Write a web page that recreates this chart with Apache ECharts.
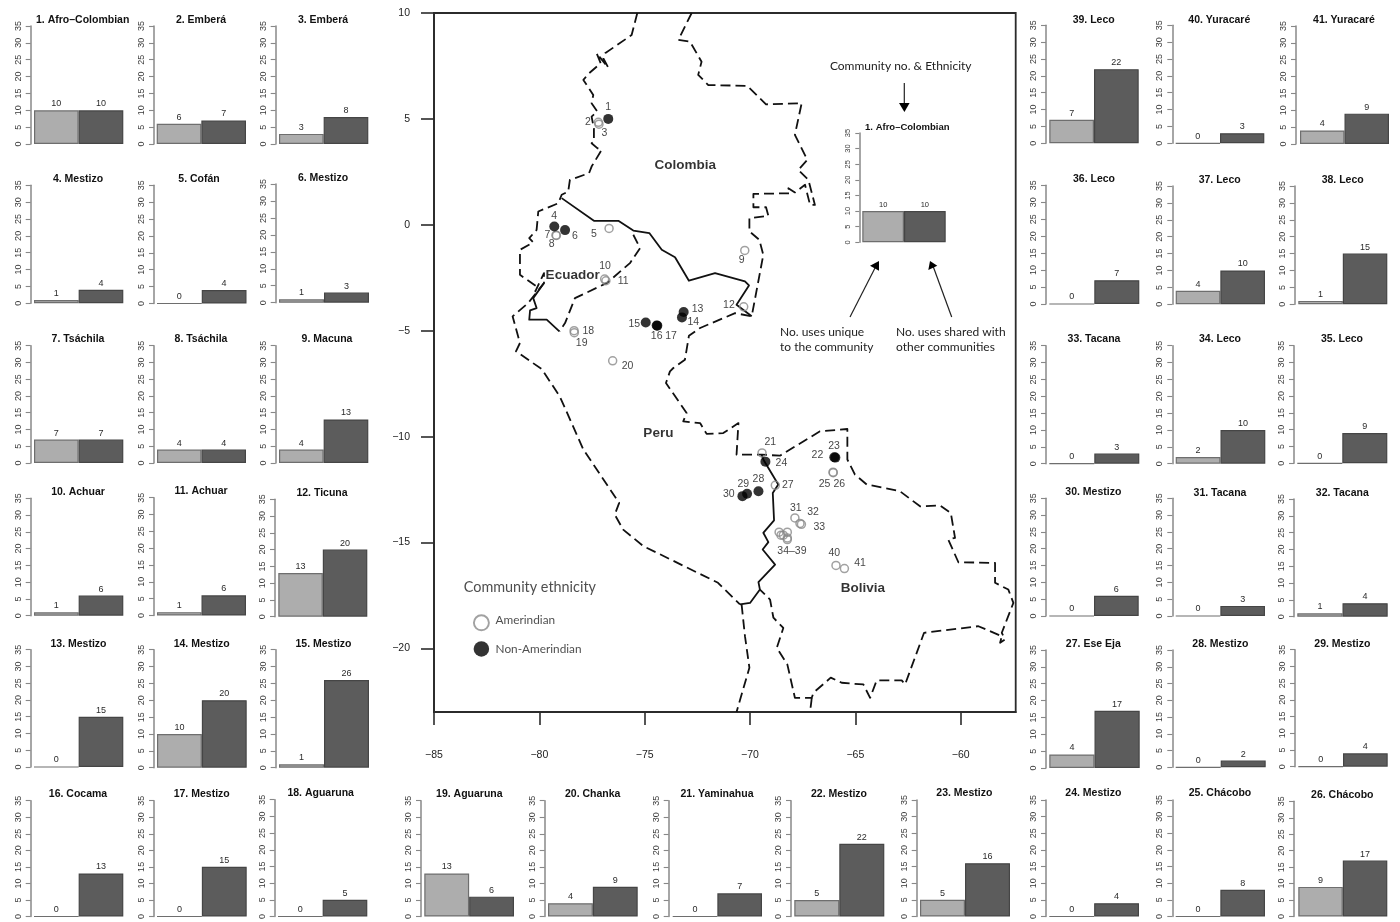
<!DOCTYPE html>
<html><head><meta charset="utf-8">
<style>html,body{margin:0;padding:0;background:#fff}#c{width:1400px;height:922px;filter:blur(0.4px)}</style>
<script src="https://cdn.jsdelivr.net/npm/echarts@6/dist/echarts.min.js"></script>
</head><body><div id="c"></div>
<script>
// ---------- data ----------
const ethnicities = ['Afro–Colombian','Emberá','Emberá','Mestizo','Cofán','Mestizo','Tsáchila','Tsáchila','Macuna','Achuar','Achuar','Ticuna','Mestizo','Mestizo','Mestizo','Cocama','Mestizo','Aguaruna','Aguaruna','Chanka','Yaminahua','Mestizo','Mestizo','Mestizo','Chácobo','Chácobo','Ese Eja','Mestizo','Mestizo','Mestizo','Tacana','Tacana','Tacana','Leco','Leco','Leco','Leco','Leco','Leco','Yuracaré','Yuracaré'];
const uniqueUses = [10,6,3,1,0,1,7,4,4,1,1,13,0,10,1,0,0,0,13,4,0,5,5,0,0,9,4,0,0,0,0,1,0,2,0,0,4,1,7,0,4];
const sharedUses = [10,7,8,4,4,3,7,4,13,6,6,20,15,20,26,13,15,5,6,9,7,22,16,4,8,17,17,2,4,6,3,4,3,10,9,7,10,15,22,3,9];
const yTicks = [0,5,10,15,20,25,30,35];
const lonTicks = [-85,-80,-75,-70,-65,-60];
const latTicks = [-20,-15,-10,-5,0,5,10];

const amerindianSites = [[-77.20,4.84],[-77.17,4.75],[-76.69,-0.17],[-79.21,-0.49],[-79.19,-0.50],[-70.25,-1.21],[-76.90,-2.56],[-76.84,-2.64],[-70.30,-3.87],[-78.35,-5.00],[-78.34,-5.09],[-76.52,-6.42],[-69.43,-10.77],[-66.06,-11.68],[-66.05,-11.70],[-68.80,-12.30],[-67.87,-13.84],[-67.63,-14.10],[-67.56,-14.14],[-68.62,-14.51],[-68.23,-14.51],[-68.53,-14.65],[-68.42,-14.65],[-68.23,-14.78],[-68.23,-14.86],[-65.92,-16.08],[-65.52,-16.23]];
const nonAmerindianSites = [[-76.73,5.00],[-79.29,-0.08],[-78.78,-0.25],[-73.15,-4.12],[-73.23,-4.37],[-74.95,-4.61],[-74.43,-4.75],[-74.40,-4.76],[-66.00,-10.97],[-65.95,-10.99],[-69.27,-11.18],[-69.60,-12.58],[-70.14,-12.70],[-70.36,-12.81]];
const siteLabels = [['1',-76.73,5.58],['2',-77.69,4.83],['3',-76.91,4.32],['4',-79.30,0.42],['5',-77.41,-0.42],['6',-78.31,-0.52],['7',-79.62,-0.49],['8',-79.41,-0.91],['9',-70.40,-1.68],['10',-76.88,-1.93],['11',-76.02,-2.64],['12',-71.00,-3.77],['13',-72.49,-3.98],['14',-72.69,-4.58],['15',-75.49,-4.67],['16',-74.43,-5.27],['17',-73.75,-5.27],['18',-77.68,-5.01],['19',-77.99,-5.60],['20',-75.81,-6.66],['21',-69.04,-10.28],['22',-66.80,-10.86],['23',-66.01,-10.47],['24',-68.51,-11.26],['25',-66.46,-12.22],['26',-65.76,-12.22],['27',-68.21,-12.31],['28',-69.60,-12.01],['29',-70.32,-12.22],['30',-71.01,-12.69],['31',-67.83,-13.38],['32',-67.01,-13.57],['33',-66.71,-14.26],['34–39',-68.01,-15.41],['40',-66.00,-15.52],['41',-64.78,-15.99]];
const countryLabels = [['Colombia',-73.07,2.80],['Ecuador',-78.42,-2.37],['Peru',-74.35,-9.86],['Bolivia',-64.64,-17.17]];

const coastBorder = [[-75.35,10],[-75.62,8.96],[-76.88,8.10],[-76.96,7.86],[-76.73,7.42],[-77.28,8.10],[-77.09,7.63],[-77.68,7.12],[-77.91,6.84],[-77.44,6.13],[-77.52,5.74],[-77.25,5.35],[-77.52,5.11],[-77.41,4.56],[-77.41,3.93],[-77.52,3.85],[-77.25,3.62],[-77.04,3.54],[-77.52,2.75],[-77.64,2.44],[-78.31,2.20],[-78.55,2.12],[-78.63,1.57],[-78.94,1.42],[-79.10,1.02],[-80.05,0.63],[-80.13,-0.24],[-80.48,-0.63],[-80.29,-0.83],[-80.92,-1.18],[-80.92,-2.36],[-80.13,-2.91],[-80.19,-3.14],[-79.78,-2.28],[-79.78,-2.75],[-80.53,-3.69],[-81.27,-4.32],[-80.92,-5.58],[-81.11,-5.97],[-79.89,-6.81],[-79.03,-8.10],[-77.91,-10.61],[-76.21,-13.13],[-76.42,-13.68],[-76.02,-14.39],[-75.06,-15.17],[-71.52,-16.90],[-70.48,-17.92]];
const chileBorder = [[-70.40,-17.92],[-70.24,-19.42],[-70.03,-20.91],[-70.64,-23]];
const easternBorder = [[-72.77,10],[-73.40,8.73],[-72.85,8.65],[-72.30,7.70],[-72.46,7.08],[-71.98,6.60],[-70.13,6.56],[-69.24,5.69],[-67.55,5.74],[-67.87,4.25],[-67.28,3.07],[-67.71,2.59],[-67.23,2.12],[-66.92,0.94],[-67.15,0.94],[-67.39,1.89],[-67.87,1.53],[-68.18,1.73],[-68.10,1.49],[-69.84,1.46],[-69.84,0.83],[-69.24,0.83],[-69.13,0.42],[-70.03,0.31],[-70.03,-0.31],[-69.56,-0.71],[-69.37,-1.42],[-69.92,-4.32],[-70.71,-4.17],[-72.37,-4.87],[-72.90,-5.24],[-73.09,-6.37],[-73.64,-6.76],[-73.80,-6.92],[-73.99,-7.47],[-73.01,-8.88],[-73.17,-9.28],[-72.37,-9.36],[-72.06,-9.87],[-71.27,-9.83],[-70.55,-9.36],[-70.64,-10.85],[-69.45,-10.85],[-68.58,-10.90],[-66.68,-9.75],[-65.38,-9.64],[-65.38,-11.08],[-65.02,-11.79],[-64.46,-12.26],[-62.88,-12.58],[-61.93,-13.29],[-60.98,-13.25],[-60.47,-13.60],[-60.27,-14.78],[-60.59,-14.86],[-60.11,-15.93],[-58.37,-15.96],[-58.37,-16.90],[-57.74,-17.22],[-57.50,-17.85],[-58.05,-19.26],[-57.90,-19.58],[-58.13,-19.73],[-58.05,-19.42],[-59.16,-18.95],[-61.74,-19.26],[-62.64,-21.70],[-62.80,-21.51],[-63.99,-21.51],[-64.30,-22.33],[-64.62,-21.70],[-65.65,-21.62],[-66.17,-21.38],[-66.99,-22.09],[-67.07,-22.33],[-67.87,-22.33],[-68.23,-20.75],[-68.73,-19.97],[-68.42,-19.03],[-68.89,-18.55],[-69.05,-17.69],[-69.53,-17.22]];
const chileSpur = [[-67.07,-22.33],[-67.15,-23]];
const ecuadorPeruDashed = [[-75.54,-0.47],[-75.22,-1.10],[-75.70,-1.81],[-76.80,-2.75],[-78.31,-3.46],[-78.78,-4.64],[-79.05,-5.03]];
const peruBoliviaSolid = [[-70.48,-17.92],[-70.00,-17.85],[-69.53,-17.22],[-69.60,-16.87],[-68.81,-16.04],[-69.40,-15.33],[-69.13,-14.98],[-69.37,-14.54],[-68.86,-13.95],[-68.92,-12.66],[-68.66,-12.26],[-69.37,-11.08],[-69.45,-10.85]];
const colombiaPeruSolid = [[-78.94,1.26],[-77.41,0.19],[-76.25,0.19],[-75.54,-0.27],[-74.78,-0.39],[-74.19,-1.18],[-73.56,-1.53],[-72.90,-2.64],[-71.66,-2.28],[-70.24,-2.67],[-70.05,-2.86],[-70.64,-3.77],[-69.92,-4.32]];
const ecuadorPeruSolid = [[-79.05,-5.03],[-79.65,-4.48],[-80.48,-4.48],[-80.44,-4.04],[-80.13,-3.93],[-80.29,-3.46],[-79.78,-2.75]];

// ---------- layout (axis x, y at 35, y at 0, bar left, bar right, title centre x, title y) ----------
const panelLayout = [
[30.7,26,144,34,123.3,82.7,20],[154,26,144,156.7,246,201,20],[275.7,26,144,279,368.3,323,20],
[30.7,185.3,303.3,34,123.3,78,179],[154,185.3,303.5,157,246.5,199,179],[275.7,184,302.7,279,369,323,178],
[30.7,345.7,463,34,123.3,78,339],[154,345.7,463,157,246,201,339],[275.7,345.7,463,279,368.3,327,339],
[30.7,498.3,615.7,34,123.3,78,492],[154,497.7,615.5,157,246,201,491],[275,499.3,616.7,278.3,367.3,322,492.7],
[30.7,649.7,767,34,123.3,78.5,643.7],[154,649.7,767.7,157,246.7,201.7,643.7],[275.7,649.7,767.7,279,369,323.5,643.7],
[30.7,800.7,918.3,34,123.3,78,794],[154,800.7,918.7,157,246.7,201.7,794],[274.7,799.7,917,278,367.3,320.7,793.3],
[421,800.7,918.7,424.3,514,469.3,794],[544.7,800.7,918.7,548,637.7,592.7,794],[668.7,800.7,918.7,672.7,762,717,794],
[791,800.7,918.7,794.3,884.3,839,794],[916.7,800,918.3,920,1010,964.3,793.3],
[1046,800,917,1049.3,1139,1093.3,793.3],[1172.3,800,917,1175.7,1265,1220,793.3],[1294,801.3,918.7,1298.3,1387.3,1342.3,795],
[1046,650,768,1049.3,1139.7,1093.3,643.7],[1172.3,650,767.3,1175.7,1265.7,1220.3,643.7],[1295,649.7,766.7,1298.3,1387.7,1342.3,643.7],
[1046,498.3,616,1049.3,1138.7,1093.3,492],[1172.3,498.3,616,1175.7,1265,1220,492.7],[1294,499,616.7,1297.3,1387.7,1342.3,492.7],
[1046,345.7,463.7,1049.3,1139.3,1094,339.3],[1172.3,345.7,463.7,1175.7,1265.3,1220,339.3],[1294,345.7,463.3,1297.3,1387.3,1342,339.3],
[1046,185.3,304,1049.3,1139.3,1094,179.3],[1172.3,186,304.3,1175.7,1265,1219.7,180],[1294.7,186,304.3,1298.3,1387.3,1342.7,180],
[1046,25.3,143.3,1049.3,1138.7,1093.7,20],[1172.3,25.3,143.3,1175.7,1264.3,1219.3,20],[1296,26,144,1300,1389,1344,20]
];
const insetLayout = [859.3,133,242.3,862.3,945.7,907.3,127];

const LIGHT='#adadad', DARK='#5c5c5c', AXIS='#888888', SANS='"Liberation Sans",Arial,sans-serif', CAL='Lato,"Open Sans",sans-serif';
const grid=[],xAxis=[],yAxis=[],series=[],title=[];

function addPanel(layout,name,u,s,small){
  const [ax,y35,y0,bl,br,cx,ty]=layout, i=grid.length;
  grid.push({left:bl,top:y35,width:br-bl,height:y0-y35,containLabel:false});
  xAxis.push({type:'category',gridIndex:i,data:['unique','shared'],show:false,boundaryGap:true});
  yAxis.push({type:'value',gridIndex:i,min:0,max:35,interval:5,offset:bl-ax,
    axisLine:{show:true,lineStyle:{color:AXIS,width:1.5}},
    axisTick:{show:true,length:small?4:5,lineStyle:{color:AXIS,width:1.1}},
    axisLabel:{rotate:90,fontFamily:SANS,fontSize:small?7.5:9,color:'#3a3a3a',margin:small?7:8,hideOverlap:false,showMinLabel:true,showMaxLabel:true,
      customValues:yTicks},
    splitLine:{show:false}});
  series.push({type:'bar',xAxisIndex:i,yAxisIndex:i,barWidth:'100%',barGap:'0%',
    data:[{value:u,itemStyle:{color:LIGHT,borderColor:'#6e6e6e'}},{value:s,itemStyle:{color:DARK,borderColor:'#454545'}}],
    itemStyle:{borderWidth:1.2},
    label:{show:true,position:'top',distance:2,fontFamily:SANS,fontSize:small?7.5:9,color:'#2a2a2a'},
    silent:true,animation:false});
  title.push({text:name,left:cx,top:ty-6,padding:0,textAlign:'center',
    textStyle:{fontFamily:SANS,fontWeight:'bold',fontSize:small?9.5:10.5,color:'#111',lineHeight:12}});
}
ethnicities.forEach((e,i)=>addPanel(panelLayout[i],(i+1)+'. '+e,uniqueUses[i],sharedUses[i],false));
addPanel(insetLayout,'1. '+ethnicities[0],uniqueUses[0],sharedUses[0],true);

// ---------- map ----------
const m=grid.length;
const fmtMinus=v=>String(v).replace('-','−');
grid.push({left:434,top:13,width:581.7,height:699,show:true,borderColor:'#2b2b2b',borderWidth:1.8,backgroundColor:'transparent',z:0});
xAxis.push({type:'value',gridIndex:m,min:-85,max:-57.39,
  axisLine:{show:true,onZero:false,lineStyle:{color:'#2b2b2b',width:1.8}},
  axisTick:{show:true,length:13,lineStyle:{color:'#2b2b2b',width:1.6},customValues:lonTicks},
  axisLabel:{customValues:lonTicks,formatter:fmtMinus,margin:38,fontFamily:SANS,fontSize:10.5,color:'#222',hideOverlap:false},
  splitLine:{show:false}});
yAxis.push({type:'value',gridIndex:m,min:-23,max:10,
  axisLine:{show:true,onZero:false,lineStyle:{color:'#2b2b2b',width:1.8}},
  axisTick:{show:true,length:13,lineStyle:{color:'#2b2b2b',width:1.6},customValues:latTicks},
  axisLabel:{customValues:latTicks,formatter:fmtMinus,margin:24,fontFamily:SANS,fontSize:10.5,color:'#222',hideOverlap:false},
  splitLine:{show:false}});
function border(data,dashed){
  series.push({type:'line',xAxisIndex:m,yAxisIndex:m,data,symbol:'none',silent:true,animation:false,z:2,
    lineStyle:{color:'#111',width:1.8,type:dashed?[10,5]:'solid',join:'round'}});
}
[coastBorder,chileBorder,easternBorder,chileSpur,ecuadorPeruDashed].forEach(b=>border(b,true));
[peruBoliviaSolid,colombiaPeruSolid,ecuadorPeruSolid].forEach(b=>border(b,false));
function sites(data,size,hollow){
  series.push({type:'scatter',xAxisIndex:m,yAxisIndex:m,data,symbol:'circle',symbolSize:size,silent:true,animation:false,z:4,
    itemStyle:hollow?{color:'rgba(255,255,255,0)',borderColor:'#8a8a8a',borderWidth:size>10?1.9:1.5}:{color:'#000'}});
}
sites(amerindianSites,8,true);
sites(nonAmerindianSites,10,false);
sites([[-82.75,-18.79]],15,true);
sites([[-82.75,-20.02]],15.5,false);
function textPts(rows,style,pos){
  series.push({type:'scatter',xAxisIndex:m,yAxisIndex:m,symbolSize:1,silent:true,animation:false,z:5,itemStyle:{color:'rgba(0,0,0,0)'},
    data:rows.map(r=>({value:[r[1],r[2]],name:r[0]})),
    label:Object.assign({show:true,position:pos||'inside',distance:0,formatter:p=>p.name},style),labelLayout:{hideOverlap:false}});
}
textPts(siteLabels,{fontFamily:SANS,fontSize:10.5,color:'#111',offset:[0,1]});
textPts(countryLabels,{fontFamily:SANS,fontSize:13.5,fontWeight:'bold',color:'#000',offset:[0,1.5]});
textPts([['Community ethnicity',-83.61,-17.12]],{fontFamily:CAL,fontSize:14.4,color:'#222'},'right');
textPts([['Amerindian',-82.10,-18.66],['Non-Amerindian',-82.10,-20.02]],{fontFamily:CAL,fontSize:11.8,color:'#222'},'right');

// ---------- annotation around the inset ----------
const note=(t,x,y,a)=>({type:'text',x,y,z:20,silent:true,style:{text:t,x:0,y:0,align:a||'left',verticalAlign:'middle',fontFamily:CAL,fontSize:12,fill:'#222'}});
const seg=(x1,y1,x2,y2)=>({type:'line',z:20,silent:true,shape:{x1,y1,x2,y2},style:{stroke:'#222',lineWidth:1.2}});
const head=p=>({type:'polygon',z:20,silent:true,shape:{points:p},style:{fill:'#000'}});
const graphic=[
  note('Community no. & Ethnicity',900.7,66,'center'),
  note('No. uses unique',780,332),note('to the community',780,347),
  note('No. uses shared with',896,332),note('other communities',896,347),
  seg(904.3,83,904.3,104),head([[899,103],[909.6,103],[904.4,112]]),
  seg(850,317,875,268),head([[879,261],[870,265.7],[879,270.7]]),
  seg(951.7,317,933,266),head([[930,261],[928.3,270],[937.3,265.7]])
];

const chart=echarts.init(document.getElementById('c'),null,{renderer:'canvas'});
chart.setOption({animation:false,backgroundColor:'#fff',title,grid,xAxis,yAxis,series,graphic,tooltip:{show:false},legend:{show:false}});
</script></body></html>
